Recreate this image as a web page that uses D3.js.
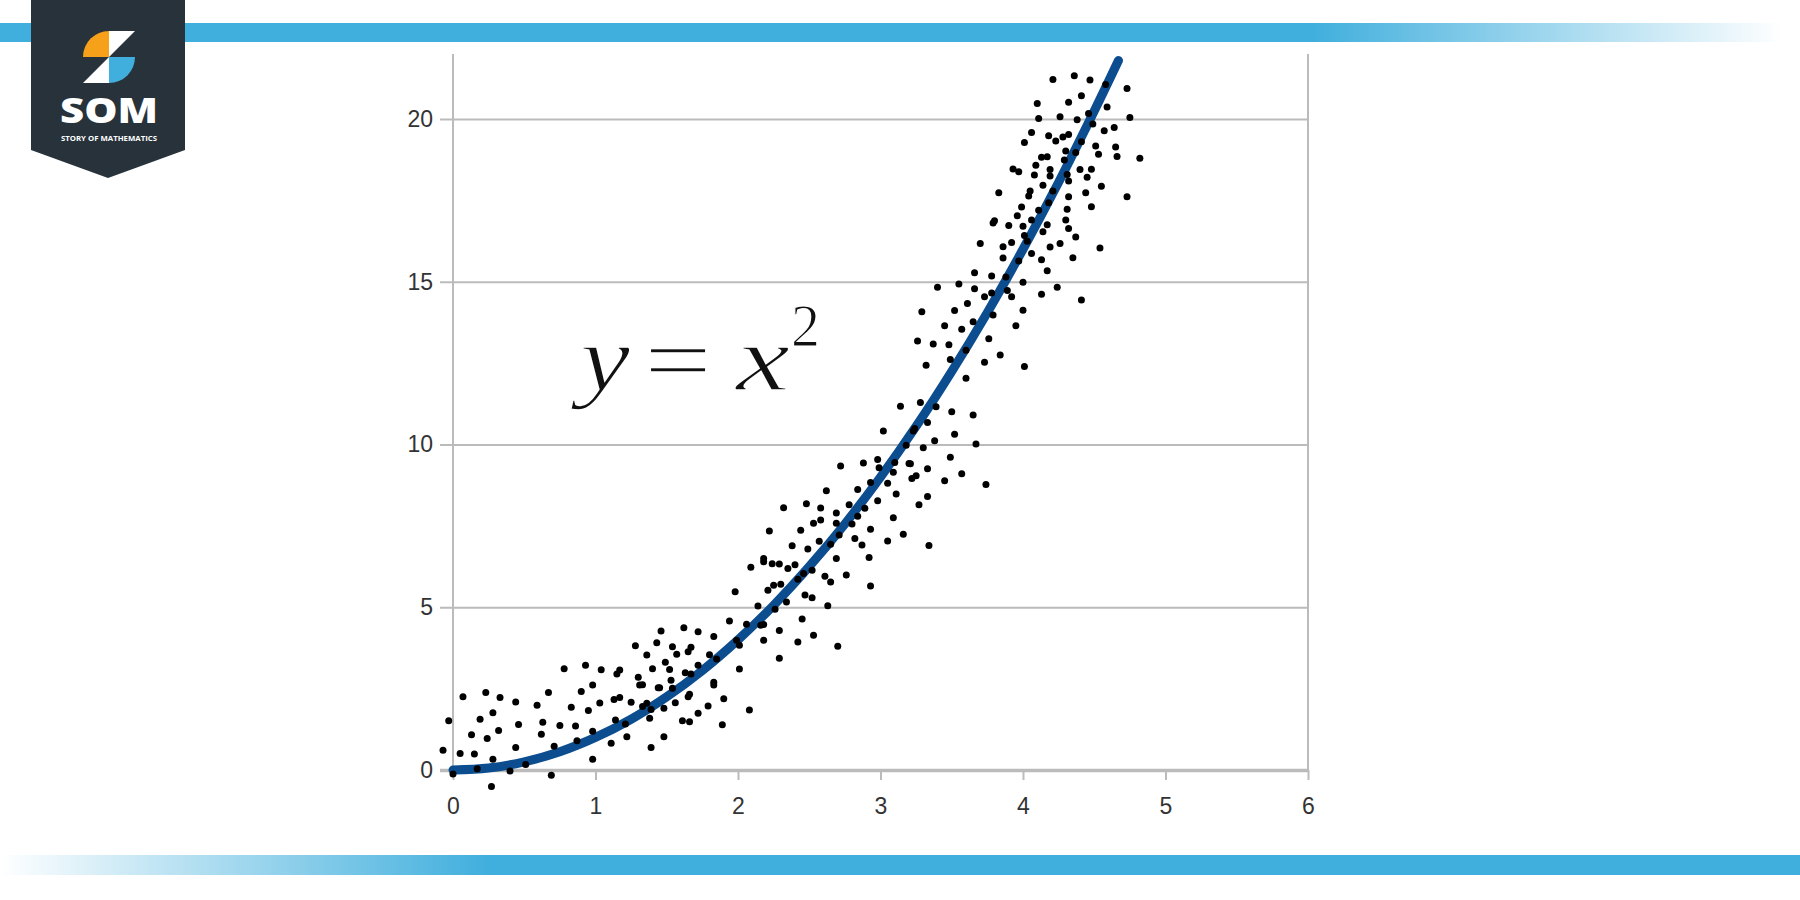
<!DOCTYPE html>
<html><head><meta charset="utf-8">
<script src="https://cdn.jsdelivr.net/npm/d3@7"></script>
<style>html,body{margin:0;padding:0;background:#fff;overflow:hidden}svg{display:block}</style>
</head><body>
<svg id="chart" width="1800" height="900"></svg>
<script>
// ---------- data ----------
const xTicks = [0, 1, 2, 3, 4, 5, 6];
const yTicks = [0, 5, 10, 15, 20];
const curveX = [0, 0.25, 0.5, 0.75, 1, 1.25, 1.5, 1.75, 2, 2.25, 2.5, 2.75, 3, 3.25, 3.5, 3.75, 4, 4.25, 4.5, 4.67];
const curveY = [0, 0.06, 0.25, 0.56, 1, 1.56, 2.25, 3.06, 4, 5.06, 6.25, 7.56, 9, 10.56, 12.25, 14.06, 16, 18.06, 20.25, 21.8];
const scatterX = [
 -0.03,-0.07,0.05,0.00,0.07,0.13,0.15,0.17,0.19,0.23,0.24,0.27,0.28,0.28,0.32,0.33,0.40,0.44,0.44,0.46,
 0.51,0.59,0.62,0.63,0.67,0.69,0.71,0.75,0.78,0.83,0.86,0.87,0.90,0.93,0.95,0.98,0.98,0.98,1.03,1.04,
 1.11,1.13,1.14,1.15,1.17,1.17,1.21,1.22,1.25,1.28,1.30,1.31,1.33,1.33,1.36,1.36,1.38,1.39,1.39,1.40,
 1.43,1.44,1.45,1.46,1.48,1.49,1.48,1.52,1.53,1.54,1.54,1.56,1.57,
 1.62,1.67,1.65,1.63,1.67,1.72,1.72,1.66,1.65,1.61,1.66,1.72,1.79,1.80,1.83,1.83,1.83,1.85,1.89,1.90,
 1.94,1.98,1.99,2.01,2.01,2.06,2.08,2.09,2.14,2.16,2.18,2.18,2.18,2.21,2.24,2.25,2.26,2.29,2.29,2.29,
 2.30,2.34,2.35,2.40,2.42,2.42,2.45,2.46,2.47,2.52,2.53,2.52,2.61,2.63,2.65,2.70,2.76,2.93,
 3.02,3.18,3.23,3.30,3.38,3.52,3.67,2.72,2.88,2.98,2.99,3.10,3.20,3.21,3.09,3.05,2.93,3.22,3.25,3.33,
 3.49,3.57,3.45,3.74,2.62,2.84,2.98,3.11,3.33,3.27,2.48,2.58,2.78,2.69,2.89,2.53,2.58,2.69,2.84,2.80,
 3.09,2.93,2.44,2.71,2.82,3.05,3.16,3.34,2.57,2.65,2.87,2.49,2.69,2.92,
 2.32,2.22,2.38,2.18,
 3.29,3.52,3.61,3.45,3.57,3.65,3.79,4.00,3.95,4.41,3.26,3.37,3.48,3.60,3.76,3.32,3.49,3.73,3.84,4.01,
 3.60,3.14,3.28,3.39,3.50,3.65,3.33,3.24,
 3.70,3.66,3.55,3.40,3.66,3.73,
 4.21,4.36,4.47,4.58,4.73,4.10,4.32,4.41,4.59,4.11,4.26,4.38,4.46,4.49,4.75,4.57,4.64,4.06,4.18,4.28,
 4.32,4.23,4.01,4.41,4.51,4.65,4.82,4.66,4.53,4.30,4.37,4.13,4.17,4.29,4.09,3.93,3.97,4.19,4.08,4.19,
 4.31,4.40,4.48,4.45,4.32,4.14,4.55,3.83,4.05,4.04,4.21,4.32,4.44,4.73,4.18,3.99,4.31,4.48,4.11,3.96,
 3.80,3.79,3.90,4.00,4.06,4.17,4.30,4.32,4.14,4.01,4.37,4.03,3.92,3.86,4.19,4.26,4.54,3.86,4.06,4.13,
 3.97,4.35,3.78,3.88,4.17,4.00,4.24,3.89,3.78,3.92,4.13
];
const scatterY = [
 1.51,0.61,0.51,-0.12,2.25,1.08,0.49,0.04,1.56,2.38,0.97,-0.51,0.33,1.76,1.21,2.23,-0.03,0.69,2.09,1.40,
 0.17,1.99,1.10,1.47,2.38,-0.16,0.73,1.37,3.11,1.93,1.35,0.90,2.41,3.22,1.83,0.33,1.19,2.61,2.06,3.08,
 0.82,2.17,1.54,2.95,2.23,3.07,1.41,1.02,2.08,3.82,2.85,2.61,2.62,1.95,3.53,2.05,1.59,0.69,1.86,3.11,
 3.91,2.53,2.53,4.27,1.02,3.31,1.90,3.09,2.76,3.79,2.51,2.07,3.56,
 4.37,3.77,3.63,2.99,2.95,3.22,4.25,2.33,2.25,1.51,1.48,1.74,1.97,3.54,4.10,2.70,2.61,3.41,1.39,2.19,
 4.58,5.48,3.99,3.10,3.83,4.48,1.84,6.23,5.04,4.45,4.47,6.40,3.99,5.52,6.34,5.68,4.94,3.43,4.29,6.33,
 5.71,5.16,6.19,6.31,5.86,3.93,4.64,6.04,5.38,5.29,4.14,6.14,5.95,5.05,5.78,3.80,5.99,5.65,
 10.42,9.98,10.42,9.90,10.12,10.32,10.02,9.34,9.43,9.54,9.29,9.45,9.42,9.41,9.15,8.81,8.83,8.96,9.04,9.26,
 9.61,9.10,8.89,8.77,8.58,8.62,8.27,8.48,8.40,8.15,8.18,8.05,8.15,7.90,8.04,7.58,7.68,7.58,7.80,7.56,
 7.75,7.40,7.37,7.22,7.11,7.04,7.24,6.90,7.03,6.94,6.91,6.79,6.50,6.53,
 8.06,7.34,6.89,6.50,
 14.08,14.12,14.33,13.65,13.54,13.77,13.98,14.13,13.65,14.44,13.18,13.09,13.07,12.90,13.25,12.44,12.61,12.53,12.75,12.40,
 12.04,11.18,11.29,11.16,11.01,10.91,10.68,10.49,
 16.18,15.28,14.93,14.83,14.79,14.54,
 21.22,21.33,21.20,21.06,20.94,20.48,20.52,20.72,20.37,20.02,20.07,19.98,20.17,19.85,20.05,19.64,19.74,19.59,19.49,19.45,
 19.53,19.33,19.28,19.30,19.17,19.14,18.80,18.85,18.92,19.02,18.97,18.83,18.84,18.74,18.58,18.47,18.38,18.45,18.28,18.25,
 18.30,18.45,18.46,18.21,18.10,17.97,17.94,17.74,17.79,17.64,17.79,17.61,17.74,17.61,17.43,17.30,17.23,17.31,17.20,17.03,
 16.88,16.81,16.73,16.71,16.90,16.75,16.90,16.64,16.54,16.42,16.38,16.25,16.21,16.08,16.07,16.18,16.04,15.73,15.87,15.68,
 15.64,15.74,15.18,15.15,15.34,14.99,14.83,14.73,14.66,14.54,14.62
];
const equationParts = ["y", "=", "x", "2"];
const brandName = "SOM";
const brandTagline = "STORY OF MATHEMATICS";

// ---------- drawing ----------
const svg = d3.select("#chart");
const BLUE = "#41afdd";
const defs = svg.append("defs");

const gTop = defs.append("linearGradient").attr("id", "gTop").attr("x1", 0).attr("x2", 1).attr("y1", 0).attr("y2", 0);
gTop.append("stop").attr("offset", "0").attr("stop-color", BLUE);
gTop.append("stop").attr("offset", "0.73").attr("stop-color", BLUE);
gTop.append("stop").attr("offset", "0.99").attr("stop-color", BLUE).attr("stop-opacity", 0);
const gBot = defs.append("linearGradient").attr("id", "gBot").attr("x1", 0).attr("x2", 1).attr("y1", 0).attr("y2", 0);
gBot.append("stop").attr("offset", "0").attr("stop-color", BLUE).attr("stop-opacity", 0);
gBot.append("stop").attr("offset", "0.27").attr("stop-color", BLUE);
gBot.append("stop").attr("offset", "1").attr("stop-color", BLUE);

svg.append("rect").attr("x", 0).attr("y", 23).attr("width", 1800).attr("height", 19).attr("fill", "url(#gTop)");
svg.append("rect").attr("x", 0).attr("y", 855).attr("width", 1800).attr("height", 20).attr("fill", "url(#gBot)");

// logo
const logo = svg.append("g");
logo.append("path").attr("d", "M31,0 H185 V150 L108,178 L31,150 Z").attr("fill", "#27323b");
const r = 26, cx = 109, cy = 57;
logo.append("path").attr("d", `M${cx},${cy} L${cx - r},${cy} A${r},${r} 0 0 1 ${cx},${cy - r} Z`).attr("fill", "#f7a11a");
logo.append("path").attr("d", `M${cx},${cy} L${cx + r},${cy} A${r},${r} 0 0 1 ${cx},${cy + r} Z`).attr("fill", "#41afdd");
logo.append("path").attr("d", `M${cx},${cy - r} L${cx + r},${cy - r} L${cx},${cy} Z`).attr("fill", "#fff");
logo.append("path").attr("d", `M${cx},${cy} L${cx},${cy + r} L${cx - r},${cy + r} Z`).attr("fill", "#fff");
logo.append("text").attr("x", 60).attr("y", 123).attr("textLength", 98).attr("lengthAdjust", "spacingAndGlyphs")
  .attr("font-family", "'Open Sans', sans-serif").attr("font-weight", 800)
  .attr("font-size", 36).attr("fill", "#fff").text(brandName);
logo.append("text").attr("x", 61).attr("y", 141).attr("textLength", 96).attr("lengthAdjust", "spacingAndGlyphs")
  .attr("font-family", "'Open Sans', sans-serif").attr("font-weight", 700)
  .attr("font-size", 7).attr("fill", "#fff").text(brandTagline);

// scales
const x = d3.scaleLinear().domain([0, 6]).range([453, 1308]);
const y = d3.scaleLinear().domain([0, 22]).range([770, 54]);

// y axis with gridlines
const yAxis = svg.append("g").attr("transform", "translate(440,0)")
  .call(d3.axisLeft(y).tickValues(yTicks).tickFormat(d3.format("d")).tickSize(-(1308 - 440)).tickPadding(7));
yAxis.select(".domain").remove();
yAxis.selectAll(".tick line").attr("stroke", "#bbbbbb").attr("stroke-width", d => d === 0 ? 3.5 : 2);
yAxis.selectAll(".tick text").attr("font-family", "'Liberation Sans', Arial, sans-serif")
  .attr("font-size", 23).attr("fill", "#333");

// vertical frame lines
svg.append("line").attr("x1", x(0)).attr("x2", x(0)).attr("y1", y(22)).attr("y2", y(0)).attr("stroke", "#bbbbbb").attr("stroke-width", 2);
svg.append("line").attr("x1", x(6)).attr("x2", x(6)).attr("y1", y(22)).attr("y2", y(0)).attr("stroke", "#bbbbbb").attr("stroke-width", 2);

// x axis
const xAxis = svg.append("g").attr("transform", `translate(0,${y(0)})`)
  .call(d3.axisBottom(x).tickValues(xTicks).tickFormat(d3.format("d")).tickSize(10).tickPadding(18));
xAxis.select(".domain").remove();
xAxis.selectAll(".tick line").attr("stroke", "#bbbbbb").attr("stroke-width", 2);
xAxis.selectAll(".tick text").attr("font-family", "'Liberation Sans', Arial, sans-serif")
  .attr("font-size", 23).attr("fill", "#333");

// curve
const line = d3.line().x(i => x(curveX[i])).y(i => y(curveY[i])).curve(d3.curveCatmullRom);
svg.append("path").attr("d", line(d3.range(curveX.length)))
  .attr("fill", "none").attr("stroke", "#0c4d8f").attr("stroke-width", 9).attr("stroke-linecap", "round");

// scatter
svg.append("g").selectAll("circle").data(d3.range(scatterX.length)).join("circle")
  .attr("cx", i => x(scatterX[i])).attr("cy", i => y(scatterY[i])).attr("r", 3.5).attr("fill", "#000");

// equation
const eq = svg.append("g").attr("font-family", "'Liberation Serif', 'Times New Roman', serif").attr("fill", "#111")
  .attr("stroke", "#fff").attr("stroke-width", 1.6);
eq.append("text").attr("x", 580).attr("y", 390).attr("font-size", 94).attr("font-style", "italic")
  .attr("textLength", 50).attr("lengthAdjust", "spacingAndGlyphs").text(equationParts[0]);
eq.append("text").attr("x", 644).attr("y", 391).attr("font-size", 94)
  .attr("textLength", 68).attr("lengthAdjust", "spacingAndGlyphs").text(equationParts[1]);
eq.append("text").attr("x", 736).attr("y", 390).attr("font-size", 94).attr("font-style", "italic")
  .attr("textLength", 54).attr("lengthAdjust", "spacingAndGlyphs").text(equationParts[2]);
eq.append("text").attr("x", 791).attr("y", 346).attr("font-size", 62).attr("stroke-width", 1.2)
  .attr("textLength", 29).attr("lengthAdjust", "spacingAndGlyphs").text(equationParts[3]);
</script>
</body></html>
